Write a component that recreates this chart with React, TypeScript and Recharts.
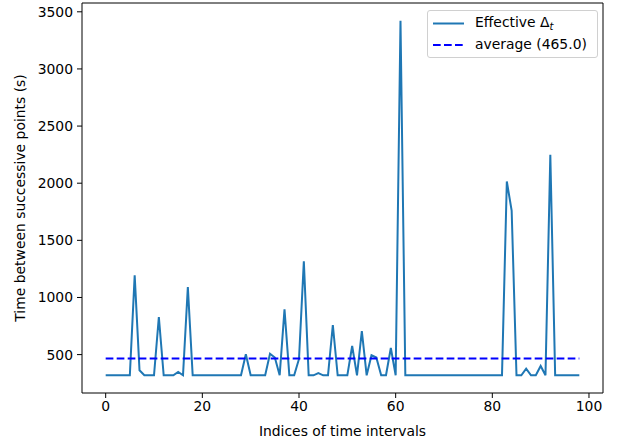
import React from "react";
import {
  LineChart,
  Line,
  XAxis,
  YAxis,
  ReferenceArea,
} from "recharts";

const FONT = "'DejaVu Sans', sans-serif";

// effective time step between successive points (s), index 0..98
const deltaT = [
  319, 319, 319, 319, 319, 319, 1193, 363, 319, 319,
  319, 829, 319, 319, 319, 348, 319, 1091, 319, 319,
  319, 319, 319, 319, 319, 319, 319, 319, 319, 503,
  319, 319, 319, 319, 508, 474, 319, 896, 319, 319,
  462, 1316, 319, 319, 339, 319, 319, 759, 319, 319,
  319, 575, 319, 706, 319, 494, 474, 319, 319, 558,
  319, 3422, 319, 319, 319, 319, 319, 319, 319, 319,
  319, 319, 319, 319, 319, 319, 319, 319, 319, 319,
  319, 319, 319, 2015, 1761, 319, 319, 377, 319, 319,
  400, 319, 2248, 319, 319, 319, 319, 319, 319,
];
const AVERAGE = 465.0;

const xTicks = [0, 20, 40, 60, 80, 100];
const yTicks = [500, 1000, 1500, 2000, 2500, 3000, 3500];

const X_DOMAIN: [number, number] = [-4.9, 102.9];
const Y_DOMAIN: [number, number] = [164, 3577];

const chartData = deltaT.map((v, i) => ({ idx: i, dt: v, avg: AVERAGE }));

function LegendBox() {
  return (
    <div
      style={{
        position: "absolute",
        left: 427,
        top: 10,
        border: "1px solid #d0d0d0",
        borderRadius: 3,
        background: "rgba(255,255,255,0.8)",
        width: 171,
        height: 48,
        boxSizing: "border-box",
        fontFamily: FONT,
        fontSize: 13.9,
        color: "#000",
      }}
    >
      <svg width={40} height={46} style={{ position: "absolute", left: 4, top: 0 }}>
        <line x1={1} x2={32} y1={12.5} y2={12.5} stroke="#1f77b4" strokeWidth={2} />
        <line
          x1={1}
          x2={32}
          y1={34}
          y2={34}
          stroke="#0000ff"
          strokeWidth={2}
          strokeDasharray="7.7 3.3"
        />
      </svg>
      <div style={{ position: "absolute", left: 47, top: 3, whiteSpace: "nowrap", lineHeight: "17px" }}>
        Effective Δ<sub style={{ fontStyle: "italic", fontSize: 10, verticalAlign: -3 }}>t</sub>
      </div>
      <div style={{ position: "absolute", left: 47, top: 25, whiteSpace: "nowrap", lineHeight: "17px" }}>
        average (465.0)
      </div>
    </div>
  );
}

export default function App() {
  const tickStyle = { fill: "#000", fontSize: 13.9, fontFamily: FONT };
  return (
    <div style={{ position: "absolute", left: 0, top: 0, width: 619, height: 442, background: "#fff" }}>
      <LineChart
        width={619}
        height={442}
        data={chartData}
        margin={{ top: 3, right: 16, left: 0, bottom: 0 }}
      >
        <XAxis
          dataKey="idx"
          type="number"
          domain={X_DOMAIN}
          ticks={xTicks}
          allowDataOverflow
          height={49}
          tickSize={5}
          tickMargin={3}
          axisLine={false}
          tickLine={{ stroke: "#000", strokeWidth: 1 }}
          tick={tickStyle}
          label={{
            value: "Indices of time intervals",
            position: "insideBottom",
            offset: 6,
            style: { fill: "#000", fontSize: 13.9, fontFamily: FONT },
          }}
        />
        <YAxis
          type="number"
          domain={Y_DOMAIN}
          ticks={yTicks}
          allowDataOverflow
          width={82}
          tickSize={5}
          tickMargin={4}
          axisLine={false}
          tickLine={{ stroke: "#000", strokeWidth: 1 }}
          tick={tickStyle}
          label={{
            value: "Time between successive points (s)",
            angle: -90,
            position: "insideLeft",
            offset: 0,
            dx: 20,
            style: { textAnchor: "middle", fill: "#000", fontSize: 13.9, fontFamily: FONT },
          }}
        />
        <ReferenceArea
          x1={X_DOMAIN[0]}
          x2={X_DOMAIN[1]}
          y1={Y_DOMAIN[0]}
          y2={Y_DOMAIN[1]}
          fill="none"
          stroke="#000"
          strokeWidth={1}
        />
        <Line
          type="linear"
          dataKey="dt"
          stroke="#1f77b4"
          strokeWidth={2}
          dot={false}
          activeDot={false}
          isAnimationActive={false}
        />
        <Line
          type="linear"
          dataKey="avg"
          stroke="#0000ff"
          strokeWidth={2}
          strokeDasharray="7.7 3.3"
          dot={false}
          activeDot={false}
          isAnimationActive={false}
        />
      </LineChart>
      <LegendBox />
    </div>
  );
}
